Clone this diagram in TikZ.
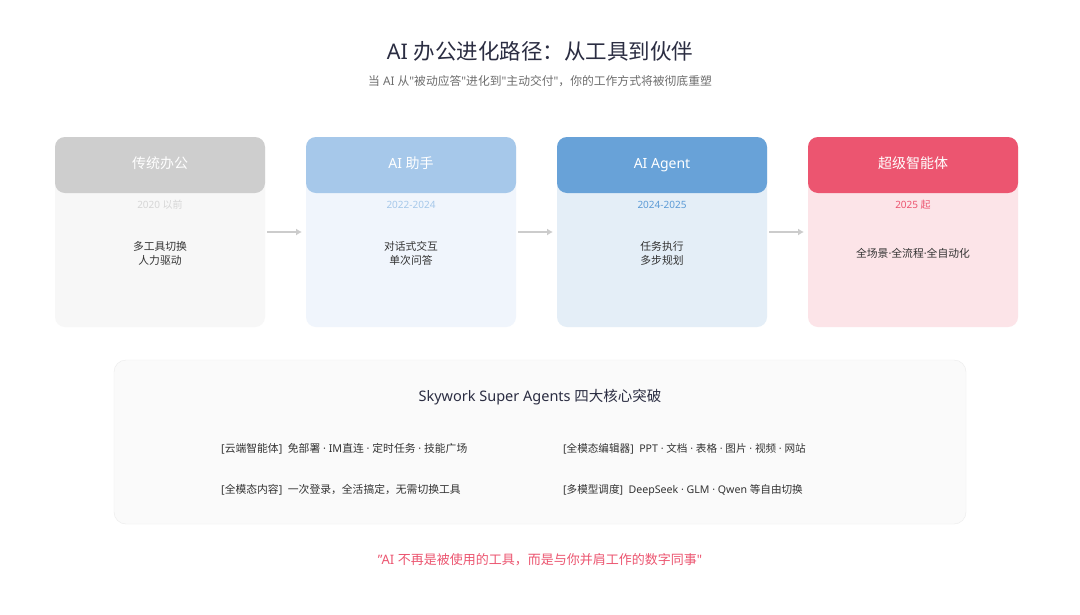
\documentclass[tikz,border=0pt]{standalone}
\usepackage{fontspec}
\setmainfont{Noto Sans}
\newfontfamily\cjkf{Noto Sans CJK SC}
\newfontfamily\latf{Noto Sans}
\XeTeXinterchartokenstate=1
\newXeTeXintercharclass\cjkclass
\makeatletter
\count@="3000 \loop\ifnum\count@<"3040 \XeTeXcharclass\count@=\cjkclass \advance\count@ 1 \repeat
\count@="4E00 \loop\ifnum\count@<"A000 \XeTeXcharclass\count@=\cjkclass \advance\count@ 1 \repeat
\count@="FF00 \loop\ifnum\count@<"FFF0 \XeTeXcharclass\count@=\cjkclass \advance\count@ 1 \repeat
\makeatother
\XeTeXinterchartoks 0 \cjkclass={\cjkf}
\XeTeXinterchartoks 4095 \cjkclass={\cjkf}
\XeTeXinterchartoks \cjkclass 0={\latf}
\XeTeXinterchartoks \cjkclass 4095={\latf}
\usetikzlibrary{arrows.meta}
\definecolor{ink}{HTML}{2B2D42}
\definecolor{subc}{HTML}{6E6E6E}
\definecolor{bodyc}{HTML}{333333}
\definecolor{redc}{HTML}{EC5570}
\definecolor{grayb}{HTML}{F7F7F7}
\definecolor{grayh}{HTML}{CECECE}
\definecolor{grayy}{HTML}{D6D6D6}
\definecolor{lblueb}{HTML}{F0F5FC}
\definecolor{lblueh}{HTML}{A6C8EA}
\definecolor{lbluey}{HTML}{A6C8EA}
\definecolor{blueb}{HTML}{E4EEF7}
\definecolor{blueh}{HTML}{68A2D8}
\definecolor{bluey}{HTML}{5C9BD6}
\definecolor{redb}{HTML}{FCE4E8}
\tikzset{
  x=1pt,y=-1pt,
  cardbody/.style={draw=none,rounded corners=10pt},
  cardhead/.style={draw=none,rounded corners=10pt},
  headtxt/.style={text=white,font=\fontsize{14}{16}\selectfont,anchor=base,inner sep=0pt},
  yeartxt/.style={font=\fontsize{10}{12}\selectfont,anchor=base,inner sep=0pt},
  desctxt/.style={text=bodyc,font=\fontsize{10.8}{14.5}\selectfont,align=center,anchor=center,inner sep=0pt},
  flowarrow/.style={draw=black!20,line width=2pt,-{Latex[length=6pt,width=7pt]},shorten <=2pt,shorten >=4pt},
  itemtxt/.style={text=bodyc,font=\fontsize{10.8}{13}\selectfont,anchor=base west,inner sep=0pt},
  itemtxtb/.style={itemtxt,font=\fontsize{10.6}{13}\selectfont},
}
\newcommand{\mycard}[9]{%
  \path[cardbody,fill=#2] (#1,137) rectangle ++(210,190);
  \path[cardhead,fill=#3] (#1,137) rectangle ++(210,56);
  \node[headtxt] (#9h) at (#1+105,168) {#4};
  \node[yeartxt,text=#5] (#9y) at (#1+105,208.5) {#6};
  \node[desctxt] (#9d) at (#1+105,#8) {#7};
  \coordinate (#9l) at (#1,232);
  \coordinate (#9r) at (#1+210,232);
}
\begin{document}
\begin{tikzpicture}
\useasboundingbox (0,0) rectangle (1080,614);
\fill[white] (0,0) rectangle (1080,614);
\node[text=ink,font=\fontsize{21.5}{26}\selectfont,inner sep=0pt] (title) at (540,51) {AI 办公进化路径：从工具到伙伴};
\node[text=subc,font=\fontsize{11.8}{15}\selectfont,inner sep=0pt] (sub) at (540,81.5) {当 AI 从"被动应答"进化到"主动交付"，你的工作方式将被彻底重塑};
\mycard{55}{grayb}{grayh}{传统办公}{grayy}{2020 以前}{多工具切换\\人力驱动}{253.5}{a}
\mycard{306}{lblueb}{lblueh}{AI 助手}{lbluey}{2022-2024}{对话式交互\\单次问答}{253.5}{b}
\mycard{557}{blueb}{blueh}{AI Agent}{bluey}{2024-2025}{任务执行\\多步规划}{253.5}{c}
\mycard{808}{redb}{redc}{超级智能体}{redc}{2025 起}{全场景·全流程·全自动化}{253.5}{d}
\draw[flowarrow] (ar) -- (bl);
\draw[flowarrow] (br) -- (cl);
\draw[flowarrow] (cr) -- (dl);
\path[draw=black!8,fill=black!2,rounded corners=12pt] (114,360) rectangle (966,524);
\node[text=ink,font=\fontsize{14.5}{18}\selectfont,inner sep=0pt] (ph) at (540,397) {Skywork Super Agents 四大核心突破};
\node[itemtxt] (i1) at (221,452) {[云端智能体]\ \ 免部署 · IM直连 · 定时任务 · 技能广场};
\node[itemtxtb] (i2) at (563,452) {[全模态编辑器]\ \ PPT · 文档 · 表格 · 图片 · 视频 · 网站};
\node[itemtxt] (i3) at (221,493) {[全模态内容]\ \ 一次登录，全活搞定，无需切换工具};
\node[itemtxtb] (i4) at (563,493) {[多模型调度]\ \ DeepSeek · GLM · Qwen 等自由切换};
\node[text=redc,font=\fontsize{13}{17}\selectfont,inner sep=0pt] (q) at (540,560) {"AI 不再是被使用的工具，而是与你并肩工作的数字同事"};
\end{tikzpicture}
\end{document}
